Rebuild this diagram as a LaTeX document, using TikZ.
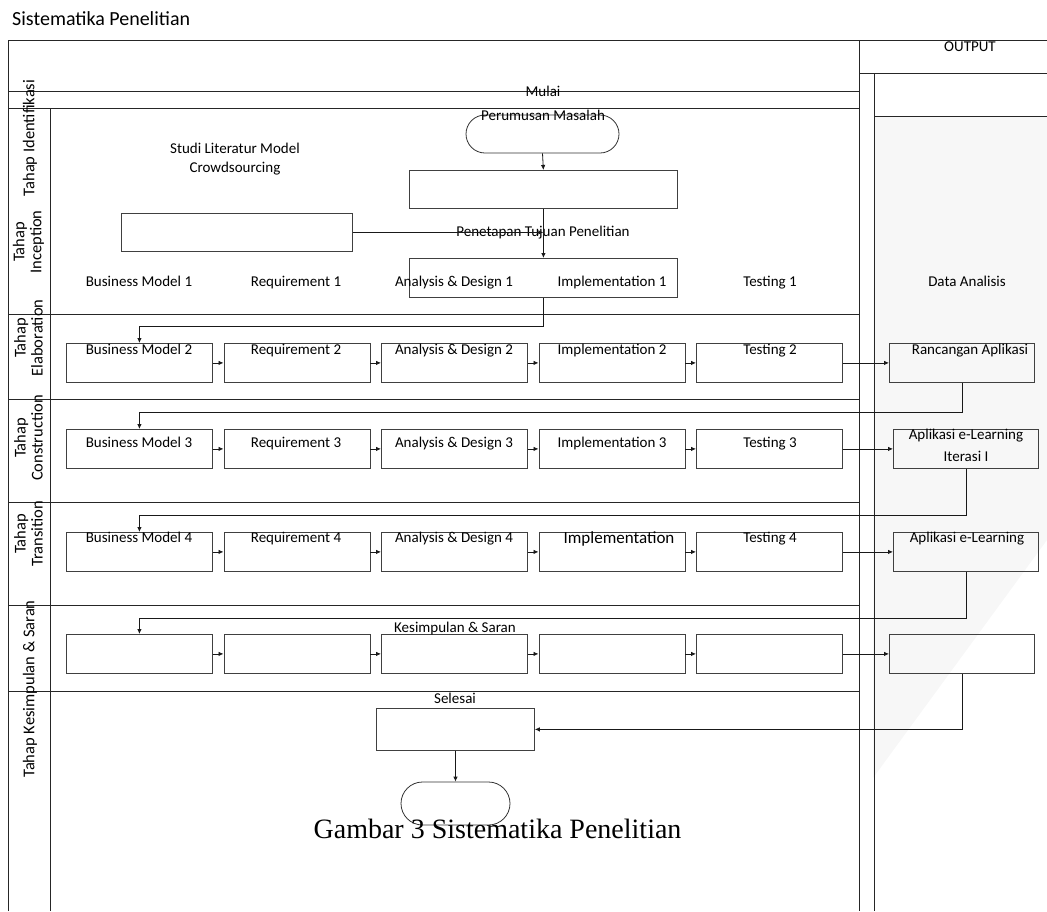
\documentclass[tikz,border=0pt]{standalone}
\usepackage{fontspec}
\setmainfont{Carlito}
\newfontfamily\capfont{Liberation Serif}
\usetikzlibrary{arrows.meta,shapes.misc,calc}

\tikzset{
  lane/.style={draw=black!85, line width=0.9pt},
  pbox/.style={draw=black!75, line width=0.8pt, minimum width=146pt, minimum height=39pt,
               inner sep=0pt, anchor=north west},
  obox/.style={pbox, minimum width=145pt},
  wbox/.style={pbox, minimum width=268pt},
  term/.style={rounded rectangle, draw=black!80, line width=0.8pt, inner sep=0pt},
  txt/.style={inner sep=0pt, font=\fontsize{15}{19}\selectfont, align=center,
              text height=9.7pt, text depth=0pt},
  vlab/.style={rotate=90, align=center, inner sep=0pt, font=\fontsize{16.5}{17}\selectfont},
  arr/.style={-{Latex[length=5pt,width=4.5pt]}, draw=black!90, line width=0.8pt},
}

\begin{document}
\begin{tikzpicture}[x=1pt,y=-1pt]
\useasboundingbox (0,0) rectangle (1047,911);

% shaded output lane
\fill[black!3] (874,116) -- (1047,116) -- (1047,540) -- (873,778) -- cycle;

% title
\node[inner sep=0pt, anchor=base west, font=\fontsize{20}{23}\selectfont] (title) at (12,25) {Sistematika Penelitian};

% main pool
\draw[lane] (8,911) -- (8,40) -- (1047,40);
\draw[lane] (859,40) -- (859,911);
\draw[lane] (8,91) -- (859,91);
\draw[lane] (8,108) -- (859,108);
\draw[lane] (50,108) -- (50,911);
\foreach \yy in {314,399,502,605,691}
  \draw[lane] (8,\yy) -- (859,\yy);

% output pool
\draw[lane] (859,73) -- (1047,73);
\draw[lane] (874,73) -- (874,911);
\draw[lane] (874,116) -- (1047,116);
\node[txt] (outhd) at (970,47) {OUTPUT};

% lane labels
\node[vlab] (l1) at (30,138) {Tahap Identifikasi};
\node[vlab] (l2) at (28.5,242) {Tahap\\Inception};
\node[vlab] (l3) at (28.5,338) {Tahap\\Elaboration};
\node[vlab] (l4) at (28.5,438) {Tahap\\Construction};
\node[vlab] (l5) at (28.5,534) {Tahap\\Transition};
\node[vlab] (l6) at (30,689) {Tahap Kesimpulan \& Saran};

% identification / inception
\node[term, minimum width=153pt, minimum height=38pt] (start) at (542.5,134) {};
\node[txt] (tmulai) at (543,92) {Mulai};
\node[txt] (tperum) at (543,116) {Perumusan Masalah};
\node[wbox, minimum height=38pt] (perum) at (409,170) {};
\node[wbox, minimum height=39pt] (pen) at (409,258) {};
\node[pbox, minimum width=231pt, minimum height=38pt] (studi) at (121,213) {};
\node[txt] (tstudi) at (235,168) {Studi Literatur Model\\Crowdsourcing};
\node[txt] (tpen) at (543,232) {Penetapan Tujuan Penelitian};
\coordinate (join) at (pen.north |- studi.east);

\draw[arr] (start.south) -- (perum.north);
\draw[arr] (perum.south) -- (pen.north);
\draw[arr] (studi.east) -- (join);

\node[txt] (i1) at (139,282) {Business Model 1};
\node[txt] (i2) at (296,282) {Requirement 1};
\node[txt] (i3) at (454,282) {Analysis \& Design 1};
\node[txt] (i4) at (612,282) {Implementation 1};
\node[txt] (i5) at (770,282) {Testing 1};
\node[txt] (i6) at (967,282) {Data Analisis};

% process boxes of the iterations
\foreach \r/\yy in {2/343,3/429,4/532,5/634}{
  \foreach \c/\xx in {1/66,2/223.5,3/381,4/538.5,5/696}
    \node[pbox] (b\r\c) at (\xx,\yy) {};
  \foreach \c/\d in {1/2,2/3,3/4,4/5}
    \draw[arr] (b\r\c.east) -- (b\r\d.west);
}
\node[obox] (o2) at (889,343) {};
\node[obox] (o3) at (893,429) {};
\node[obox] (o4) at (893,532) {};
\node[obox] (o5) at (889,634) {};
\foreach \r in {2,...,5}
  \draw[arr] (b\r5.east) -- (o\r.west |- b\r5.east);

% texts of the iterations
\node[txt] (t21) at (139,350) {Business Model 2};
\node[txt] (t22) at (296,350) {Requirement 2};
\node[txt] (t23) at (454,350) {Analysis \& Design 2};
\node[txt] (t24) at (612,350) {Implementation 2};
\node[txt] (t25) at (770,350) {Testing 2};
\node[txt] (t26) at (970,350) {Rancangan Aplikasi};

\node[txt] (t31) at (139,443) {Business Model 3};
\node[txt] (t32) at (296,443) {Requirement 3};
\node[txt] (t33) at (454,443) {Analysis \& Design 3};
\node[txt] (t34) at (612,443) {Implementation 3};
\node[txt] (t35) at (770,443) {Testing 3};
\node[txt, font=\fontsize{15}{22}\selectfont] (t36) at (966,457) {Aplikasi e-Learning\\Iterasi I};

\node[txt] (t41) at (139,538) {Business Model 4};
\node[txt] (t42) at (296,538) {Requirement 4};
\node[txt] (t43) at (454,538) {Analysis \& Design 4};
\node[txt, font=\fontsize{17}{20}\selectfont, text height=11pt] (t44) at (619,538) {Implementation};
\node[txt] (t45) at (770,538) {Testing 4};
\node[txt] (t46) at (967,538) {Aplikasi e-Learning};

\node[txt] (tkes) at (455,628) {Kesimpulan \& Saran};

% feedback connectors between iterations
\draw[arr] (pen.south) -- ++(0,29) -| (b21.north);
\draw[arr] (o2.south) -- ++(0,30) -| (b31.north);
\draw[arr] (o3.south) -- ++(0,47) -| (b41.north);
\draw[arr] (o4.south) -- ++(0,47) -| (b51.north);

% closing
\node[pbox, minimum width=158pt, minimum height=42pt] (sel) at (376,708) {};
\node[txt] (tsel) at (455,699) {Selesai};
\node[term, minimum width=109pt, minimum height=43pt] (stop) at (455.5,803.5) {};
\draw[arr] (o5.south) |- (sel.east);
\draw[arr] (sel.south) -- (stop.north);

% caption
\node[inner sep=0pt, anchor=base, font=\capfont\fontsize{28}{32}\selectfont] (cap) at (497.5,838) {Gambar 3 Sistematika Penelitian};
\end{tikzpicture}
\end{document}
